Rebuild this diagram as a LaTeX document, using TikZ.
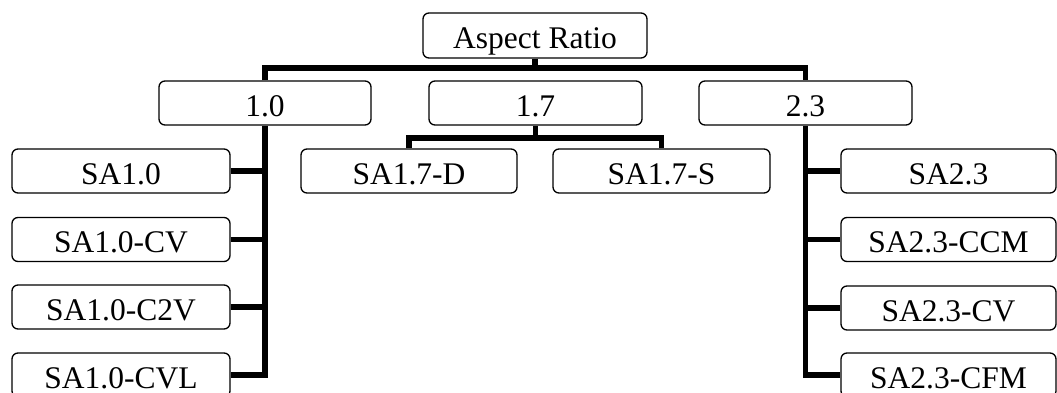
\documentclass[tikz,border=0pt]{standalone}
\usepackage{fontspec}
\setmainfont{Liberation Serif}
\begin{document}
\begin{tikzpicture}[x=1pt,y=1pt,
  box/.style={draw=black, line width=1.3pt, rounded corners=6pt, inner sep=0pt,
    text height=26pt, text depth=0pt,
    font=\fontsize{31.5}{36}\selectfont, anchor=center},
  conn/.style={draw=black, line width=5.5pt, line join=miter}]
\useasboundingbox (0,0) rectangle (1057,392);
% root
\node[box, minimum width=224pt, minimum height=45pt] (root) at (535,356.5) {Aspect Ratio};
% level 1
\node[box, minimum width=212pt, minimum height=44pt] (n10) at (265,289) {1.0};
\node[box, minimum width=213pt, minimum height=44pt] (n17) at (535.5,289) {1.7};
\node[box, minimum width=213pt, minimum height=44pt] (n23) at (805.5,289) {2.3};
% 1.7 children
\node[box, minimum width=216pt, minimum height=44pt] (d) at (409,221) {SA1.7-D};
\node[box, minimum width=217pt, minimum height=44pt] (s) at (661.5,221) {SA1.7-S};
% left children
\node[box, minimum width=218pt, minimum height=44pt] (l1) at (121,221) {SA1.0};
\node[box, minimum width=218pt, minimum height=44pt] (l2) at (121,152.5) {SA1.0-CV};
\node[box, minimum width=218pt, minimum height=44pt] (l3) at (121,85) {SA1.0-C2V};
\node[box, minimum width=218pt, minimum height=44pt] (l4) at (121,17) {SA1.0-CVL};
% right children
\node[box, minimum width=215pt, minimum height=44pt] (r1) at (948.5,221) {SA2.3};
\node[box, minimum width=215pt, minimum height=44pt] (r2) at (948.5,152.5) {SA2.3-CCM};
\node[box, minimum width=215pt, minimum height=44pt] (r3) at (948.5,84) {SA2.3-CV};
\node[box, minimum width=215pt, minimum height=44pt] (r4) at (948.5,17) {SA2.3-CFM};
% connectors
\coordinate (bar) at (535,324);
\coordinate (bar2) at (535,254);
\draw[conn] (root.south) -- (root.south |- bar);
\draw[conn] (n10.north) -- (n10.north |- bar) -- (n23.north |- bar) -- (n23.north);
\draw[conn] (n17.south) -- (n17.south |- bar2);
\draw[conn] (d.north) -- (d.north |- bar2) -- (s.north |- bar2) -- (s.north);
\draw[conn] (n10.south) |- (l4.east);
\draw[conn] (l1.east) -- (l1.east -| n10.south);
\draw[conn] (l2.east) -- (l2.east -| n10.south);
\draw[conn] (l3.east) -- (l3.east -| n10.south);
\draw[conn] (n23.south) |- (r4.west);
\draw[conn] (r1.west) -- (r1.west -| n23.south);
\draw[conn] (r2.west) -- (r2.west -| n23.south);
\draw[conn] (r3.west) -- (r3.west -| n23.south);
\end{tikzpicture}
\end{document}
